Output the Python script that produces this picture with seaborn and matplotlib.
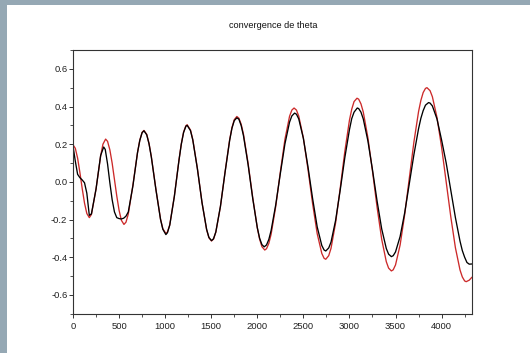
import matplotlib
matplotlib.use("Agg")
import matplotlib.pyplot as plt
from matplotlib.patches import Rectangle
from matplotlib.ticker import MultipleLocator, FuncFormatter
import seaborn as sns
import pandas as pd

# Reference trajectory of theta (red): iteration index and value
iter_ref = [0, 25, 50, 75, 100, 125, 150, 177, 200, 250, 300, 325, 354, 375, 400, 425,
            450, 475, 500, 525, 553, 575, 600, 650, 700, 725, 750, 770, 800, 825, 850,
            900, 950, 975, 1008, 1025, 1050, 1100, 1150, 1175, 1200, 1225, 1239, 1275,
            1300, 1350, 1400, 1450, 1475, 1503, 1525, 1550, 1600, 1650, 1700, 1725, 1750,
            1778, 1800, 1825, 1850, 1900, 1950, 2000, 2025, 2050, 2081, 2100, 2125, 2150,
            2200, 2250, 2300, 2350, 2375, 2399, 2425, 2450, 2500, 2550, 2600, 2650, 2700,
            2725, 2743, 2775, 2800, 2850, 2900, 2950, 3000, 3025, 3050, 3082, 3100, 3125,
            3150, 3200, 3250, 3300, 3350, 3400, 3425, 3455, 3475, 3500, 3550, 3600, 3650,
            3700, 3750, 3775, 3800, 3825, 3841, 3875, 3900, 3950, 4000, 4050, 4100, 4150,
            4200, 4225, 4250, 4267, 4300, 4330]
theta_ref = [0.197, 0.178, 0.126, 0.049, -0.036, -0.113, -0.168, -0.190, -0.173, -0.038,
             0.138, 0.200, 0.227, 0.215, 0.170, 0.099, 0.013, -0.075, -0.151, -0.204,
             -0.226, -0.214, -0.171, -0.018, 0.155, 0.222, 0.263, 0.273, 0.252, 0.204,
             0.134, -0.040, -0.198, -0.249, -0.274, -0.266, -0.228, -0.076, 0.116, 0.201,
             0.264, 0.298, 0.303, 0.275, 0.225, 0.071, -0.110, -0.254, -0.297, -0.314,
             -0.304, -0.267, -0.131, 0.052, 0.224, 0.288, 0.330, 0.347, 0.338, 0.306,
             0.253, 0.099, -0.082, -0.244, -0.304, -0.344, -0.362, -0.355, -0.327, -0.278,
             -0.131, 0.052, 0.226, 0.348, 0.381, 0.392, 0.381, 0.349, 0.233, 0.067,
             -0.115, -0.275, -0.380, -0.406, -0.411, -0.392, -0.353, -0.217, -0.033, 0.162,
             0.327, 0.386, 0.426, 0.444, 0.439, 0.414, 0.371, 0.235, 0.057, -0.135,
             -0.305, -0.424, -0.458, -0.473, -0.467, -0.441, -0.335, -0.172, 0.021, 0.213,
             0.373, 0.432, 0.474, 0.496, 0.500, 0.484, 0.452, 0.342, 0.184, 0.000,
             -0.186, -0.350, -0.468, -0.505, -0.526, -0.530, -0.522, -0.506]

# Estimated theta (black): iteration index and value
iter_est = [0, 25, 50, 75, 100, 125, 150, 177, 200, 250, 300, 333, 350, 375, 400, 425,
            450, 475, 500, 525, 550, 575, 600, 650, 700, 725, 750, 770, 800, 825, 850,
            900, 950, 975, 1008, 1025, 1050, 1100, 1150, 1175, 1200, 1225, 1239, 1275,
            1300, 1350, 1400, 1450, 1475, 1503, 1525, 1550, 1600, 1650, 1700, 1725, 1750,
            1778, 1800, 1825, 1850, 1900, 1950, 2000, 2025, 2050, 2075, 2100, 2125, 2150,
            2200, 2250, 2300, 2350, 2375, 2405, 2425, 2450, 2500, 2550, 2600, 2650, 2700,
            2725, 2743, 2775, 2800, 2850, 2900, 2950, 3000, 3025, 3050, 3085, 3100, 3125,
            3150, 3200, 3250, 3300, 3350, 3400, 3425, 3455, 3475, 3500, 3550, 3600, 3650,
            3700, 3750, 3775, 3800, 3825, 3859, 3875, 3900, 3950, 4000, 4050, 4100, 4150,
            4200, 4225, 4250, 4275, 4300, 4330]
theta_est = [0.190, 0.110, 0.040, 0.022, 0.010, -0.005, -0.060, -0.178, -0.170, -0.038,
             0.140, 0.185, 0.172, 0.095, -0.005, -0.095, -0.160, -0.190, -0.195, -0.197,
             -0.193, -0.182, -0.160, -0.022, 0.155, 0.220, 0.261, 0.271, 0.250, 0.202,
             0.132, -0.042, -0.200, -0.252, -0.280, -0.270, -0.230, -0.077, 0.114, 0.199,
             0.262, 0.295, 0.300, 0.272, 0.222, 0.069, -0.110, -0.252, -0.295, -0.312,
             -0.302, -0.266, -0.130, 0.050, 0.220, 0.285, 0.325, 0.340, 0.333, 0.299,
             0.245, 0.092, -0.087, -0.243, -0.299, -0.333, -0.345, -0.335, -0.306, -0.258,
             -0.122, 0.044, 0.202, 0.317, 0.350, 0.365, 0.359, 0.334, 0.231, 0.080,
             -0.088, -0.239, -0.338, -0.362, -0.367, -0.351, -0.320, -0.204, -0.043, 0.129,
             0.277, 0.336, 0.370, 0.392, 0.389, 0.370, 0.334, 0.218, 0.064, -0.102,
             -0.250, -0.354, -0.384, -0.397, -0.392, -0.372, -0.290, -0.163, -0.010, 0.146,
             0.282, 0.337, 0.378, 0.407, 0.421, 0.418, 0.403, 0.334, 0.222, 0.100,
             -0.045, -0.190, -0.315, -0.365, -0.400, -0.428, -0.437, -0.436]

title = "convergence de theta"

sns.set_theme(style="ticks")
plt.rcParams["font.family"] = ["Liberation Sans", "DejaVu Sans"]

W, H = 530, 353
fig = plt.figure(figsize=(W / 100, H / 100), dpi=100, facecolor="white")

# Window frame strips along the left and top edges
border = "#95a8b4"
fig.add_artist(Rectangle((0, 0), 7 / W, 1, transform=fig.transFigure,
                         facecolor=border, edgecolor="none", zorder=0))
fig.add_artist(Rectangle((0, 1 - 5 / H), 1, 5 / H, transform=fig.transFigure,
                         facecolor=border, edgecolor="none", zorder=0))

ax = fig.add_axes([73 / W, 1 - 313.7 / H, (472 - 73) / W, (313.7 - 50) / H])
ax.set_facecolor("white")

ref = pd.DataFrame({"iteration": iter_ref, "theta": theta_ref})
est = pd.DataFrame({"iteration": iter_est, "theta": theta_est})
sns.lineplot(data=ref, x="iteration", y="theta", ax=ax, color="#cc2a2a",
             linewidth=0.95, estimator=None, sort=False)
sns.lineplot(data=est, x="iteration", y="theta", ax=ax, color="black",
             linewidth=0.95, estimator=None, sort=False)

ax.set_xlim(0, 4330)
ax.set_ylim(-0.7, 0.7)
ax.set_xlabel("")
ax.set_ylabel("")

ax.xaxis.set_major_locator(MultipleLocator(500))
ax.xaxis.set_minor_locator(MultipleLocator(250))
ax.yaxis.set_major_locator(MultipleLocator(0.2))
ax.yaxis.set_minor_locator(MultipleLocator(0.1))
ax.yaxis.set_major_formatter(FuncFormatter(lambda v, p: f"{v:.1f}".replace("-0.0", "0.0")))

for side in ["left", "right", "top", "bottom"]:
    ax.spines[side].set_visible(True)
    ax.spines[side].set_color("#333333")
    ax.spines[side].set_linewidth(0.8)

ax.tick_params(axis="both", which="major", direction="out", length=3.2, width=0.7,
               color="#333333", labelsize=6.8, labelcolor="#222222")
ax.tick_params(axis="both", which="minor", direction="out", length=2.2, width=0.6,
               color="#333333")
ax.tick_params(axis="y", which="major", pad=0.8)
ax.tick_params(axis="x", which="major", pad=3.0)

fig.text(273 / W, 1 - 25 / H, title, ha="center", va="center",
         fontsize=6.6, color="#111111")

fig.savefig("out.png", dpi=100, facecolor="white")
